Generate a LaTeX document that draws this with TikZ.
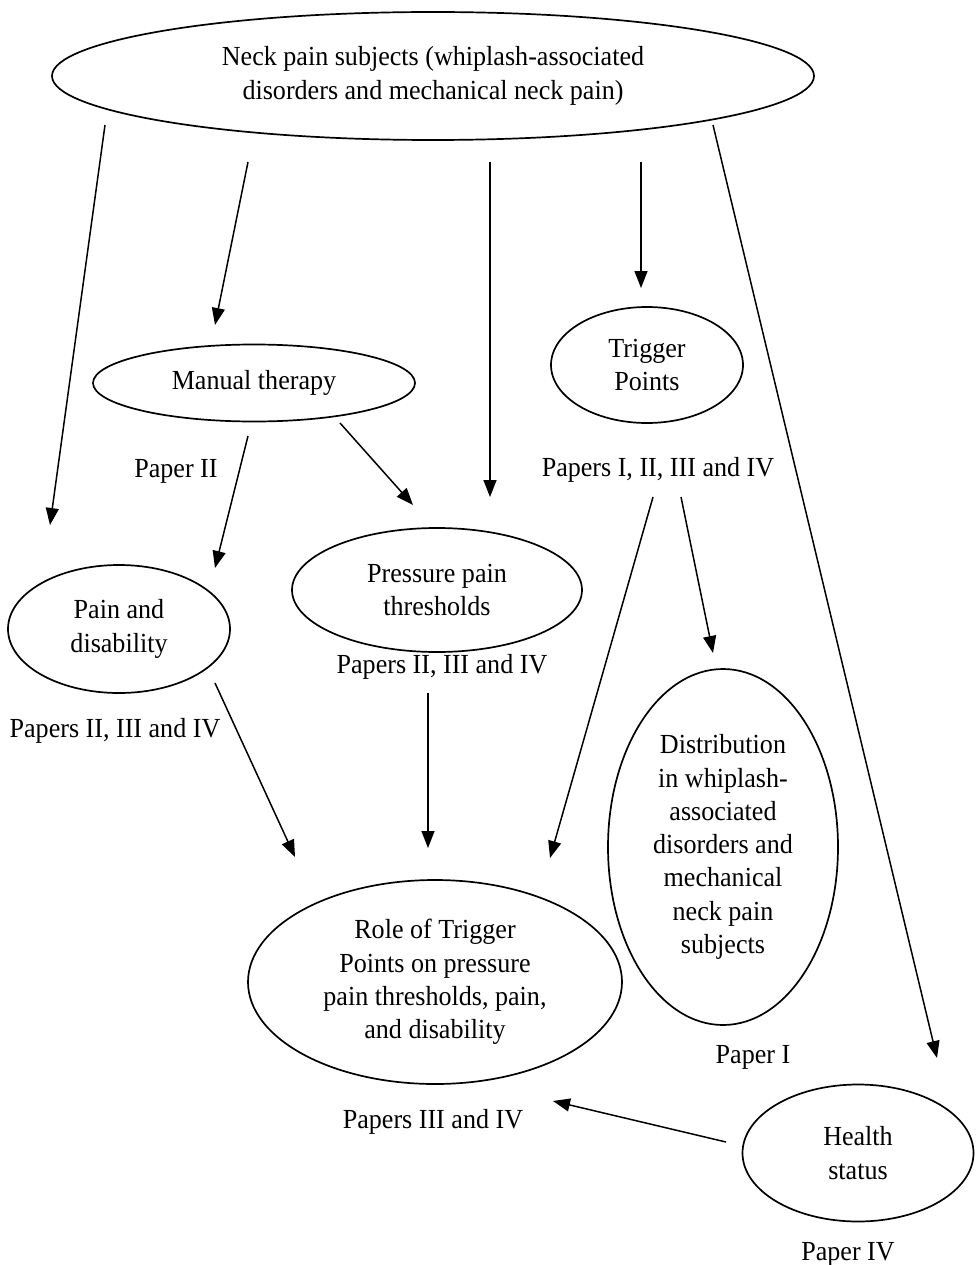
\documentclass[tikz,border=0pt]{standalone}
\usepackage{fontspec}
\setmainfont{Liberation Serif}[FakeStretch=0.945]
\usetikzlibrary{arrows.meta,shapes.geometric}
\begin{document}
\begin{tikzpicture}[x=1pt,y=-1pt,
  oval/.style={draw,ellipse,line width=1.7pt,inner sep=0pt,align=center,font=\fontsize{27.6}{33.3}\selectfont},
  lbl/.style={inner sep=0pt,anchor=base,font=\fontsize{27.6}{33.3}\selectfont},
  arr/.style={line width=1.5pt,-{Triangle[length=17pt,width=13pt]}}]
\useasboundingbox (0,0) rectangle (975,1265);
% ellipses
\node[oval,minimum width=762pt,minimum height=128pt] (neck) at (433,76) {Neck pain subjects (whiplash-associated\\disorders and mechanical neck pain)};
\node[oval,minimum width=322pt,minimum height=77pt] (manual) at (254,383) {Manual therapy};
\node[oval,minimum width=192pt,minimum height=116pt] (trigger) at (647,365) {Trigger\\Points};
\node[oval,minimum width=222pt,minimum height=128pt] (paindis) at (119,629) {Pain and\\disability};
\node[oval,minimum width=290pt,minimum height=124pt] (ppt) at (437,590) {Pressure pain\\thresholds};
\node[oval,minimum width=230pt,minimum height=356pt] (distr) at (723,847) {Distribution\\in whiplash-\\associated\\disorders and\\mechanical\\neck pain\\subjects};
\node[oval,minimum width=374pt,minimum height=204pt] (role) at (435,982) {Role of Trigger\\Points on pressure\\pain thresholds, pain,\\and disability};
\node[oval,minimum width=231pt,minimum height=137pt] (health) at (858,1153) {Health\\status};
% labels
\node[lbl] (lmanual) at (176,477) {Paper II};
\node[lbl] (ltrigger) at (658,476) {Papers I, II, III and IV};
\node[lbl] (lpaindis) at (115,737) {Papers II, III and IV};
\node[lbl] (lppt) at (442,673) {Papers II, III and IV};
\node[lbl] (ldistr) at (753,1063) {Paper I};
\node[lbl] (lrole) at (433,1128) {Papers III and IV};
\node[lbl] (lhealth) at (848,1260) {Paper IV};
% connector end points
\coordinate (a1) at (105,125); \coordinate (a2) at (50,525);
\coordinate (b1) at (248,162); \coordinate (b2) at (215,325);
\coordinate (c1) at (490,162); \coordinate (c2) at (490,497);
\coordinate (d1) at (641,162); \coordinate (d2) at (641,288);
\coordinate (e1) at (713,125); \coordinate (e2) at (937,1058);
\coordinate (f1) at (248,436); \coordinate (f2) at (215,568);
\coordinate (g1) at (340,423); \coordinate (g2) at (413,505);
\coordinate (h1) at (215,683); \coordinate (h2) at (295,857);
\coordinate (i1) at (428,693); \coordinate (i2) at (428,848);
\coordinate (j1) at (653,497); \coordinate (j2) at (550,858);
\coordinate (k1) at (681,497); \coordinate (k2) at (713,653);
\coordinate (l1) at (726,1142); \coordinate (l2) at (553,1101);
% connectors
\draw[arr] (a1) -- (a2);
\draw[arr] (b1) -- (b2);
\draw[arr] (c1) -- (c2);
\draw[arr] (d1) -- (d2);
\draw[arr] (e1) -- (e2);
\draw[arr] (f1) -- (f2);
\draw[arr] (g1) -- (g2);
\draw[arr] (h1) -- (h2);
\draw[arr] (i1) -- (i2);
\draw[arr] (j1) -- (j2);
\draw[arr] (k1) -- (k2);
\draw[arr] (l1) -- (l2);
\end{tikzpicture}
\end{document}
